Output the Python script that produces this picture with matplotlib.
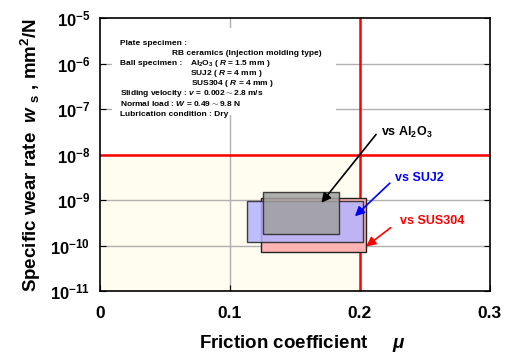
import matplotlib
matplotlib.use('Agg')
import matplotlib.pyplot as plt
from matplotlib.patches import Rectangle

plt.rcParams['font.family'] = 'Liberation Sans'
plt.rcParams['font.weight'] = 'bold'
plt.rcParams['mathtext.fontset'] = 'custom'
plt.rcParams['mathtext.rm'] = 'Liberation Sans:bold'
plt.rcParams['mathtext.bf'] = 'Liberation Sans:bold'
plt.rcParams['mathtext.it'] = 'Liberation Sans:italic:bold'
plt.rcParams['mathtext.default'] = 'rm'

# datos
materiales = ['SUS304', 'SUJ2', 'Al2O3']
mu_min = [0.1236, 0.1133, 0.1256]
mu_max = [0.2046, 0.2025, 0.1840]
ws_min = [7.1e-11, 1.18e-10, 1.76e-10]
ws_max = [1.09e-9, 9.6e-10, 1.48e-9]
colores = ['#ffb3b3', '#b3b3ff', '#a0a0a0']
alfas = [1.0, 0.85, 0.85]

x_ticks = [0, 0.1, 0.2, 0.3]
x_labels = ['0', '0.1', '0.2', '0.3']
y_ticks = [1e-11, 1e-10, 1e-9, 1e-8, 1e-7, 1e-6, 1e-5]
y_labels = ['10$^{-11}$', '10$^{-10}$', '10$^{-9}$', '10$^{-8}$',
            '10$^{-7}$', '10$^{-6}$', '10$^{-5}$']

mu_limite = 0.2
ws_limite = 1e-8

fig = plt.figure(figsize=(5.05, 3.55), dpi=100)
ax = fig.add_axes([0.198, 0.180, 0.772, 0.769])
ax.set_yscale('log')
ax.set_xlim(0, 0.3)
ax.set_ylim(1e-11, 1e-5)

# zona buena (fondo crema)
ax.add_patch(Rectangle((0, 1e-11), mu_limite, ws_limite - 1e-11,
                       facecolor='#fffdf0', edgecolor='none', zorder=0))

# rejilla
for yt in y_ticks[1:-1]:
    ax.axhline(yt, color='#b0b0b0', lw=1, zorder=1)
ax.axvline(0.1, color='#b0b0b0', lw=1, zorder=1)

# caja blanca del texto
ax.add_patch(Rectangle((0.03, 0.645), 0.575, 0.32, transform=ax.transAxes,
                       facecolor='white', edgecolor='none', zorder=2))

ax.axhline(ws_limite, color='red', lw=1.8, zorder=3)
ax.axvline(mu_limite, color='red', lw=1.8, zorder=3)

for i in range(len(materiales)):
    ax.add_patch(Rectangle((mu_min[i], ws_min[i]), mu_max[i] - mu_min[i],
                           ws_max[i] - ws_min[i], facecolor=colores[i],
                           alpha=alfas[i], edgecolor='#222222', lw=1, zorder=4))

ax.set_xticks(x_ticks)
ax.set_xticklabels(x_labels, fontsize=12.5, fontweight='bold')
ax.set_yticks(y_ticks)
ax.set_yticklabels(y_labels, fontsize=12)
ax.minorticks_off()
ax.tick_params(direction='in', length=4, right=True, top=False, pad=7)
ax.tick_params(axis='x', pad=11)
for s in ax.spines.values():
    s.set_linewidth(1.2)
    s.set_zorder(6)

ax.set_xlabel(r'Friction coefficient     $\it{\mu}$', fontsize=13.5, fontweight='bold')
ax.xaxis.set_label_coords(0.52, -0.155)
ax.set_ylabel(r'Specific wear rate  $\it{w}$ $_{s}$ , mm$^2$/N', fontsize=13.5,
              fontweight='bold')
ax.yaxis.set_label_coords(-0.145, 0.5)

# texto de condiciones
fs = 6.0
lineas = [
    (0.051, 0.908, 'Plate specimen :'),
    (0.185, 0.870, 'RB ceramics (Injection molding type)'),
    (0.051, 0.834, 'Ball specimen :'),
    (0.231, 0.834, r'Al$_2$O$_3$ ( $\it{R}$ = 1.5 mm )'),
    (0.231, 0.797, r'SUJ2 ( $\it{R}$ = 4 mm )'),
    (0.233, 0.760, r'SUS304 ( $\it{R}$ = 4 mm )'),
    (0.051, 0.723, r'Sliding velocity : $\it{v}$ = 0.002$\sim$2.8 m/s'),
    (0.051, 0.686, r'Normal load : $\it{W}$ = 0.49$\sim$9.8 N'),
    (0.051, 0.647, 'Lubrication condition : Dry'),
]
for x, y, t in lineas:
    ax.text(x, y, t, transform=ax.transAxes, fontsize=fs, fontweight='bold',
            va='center', ha='left', zorder=5)

# flechas
flechas = [
    ('vs Al$_2$O$_3$', 'black', (0.169, 7.8e-10), (0.2138, 3.1e-8), (0.216, 3.1e-8)),
    ('vs SUJ2', 'blue', (0.1946, 4.0e-10), (0.2246, 2.6e-9), (0.2269, 3.05e-9)),
    ('vs SUS304', 'red', (0.2031, 8.8e-11), (0.2254, 2.7e-10), (0.2308, 3.5e-10)),
]
for txt, c, punta, origen, pos in flechas:
    ax.annotate('', xy=punta, xytext=origen,
                arrowprops=dict(arrowstyle='-|>', color=c, lw=1.2,
                                mutation_scale=14), zorder=5)
    ax.text(pos[0], pos[1], txt, color=c, fontsize=9, fontweight='bold',
            ha='left', va='center', zorder=5)

fig.savefig('out.png', dpi=100)
